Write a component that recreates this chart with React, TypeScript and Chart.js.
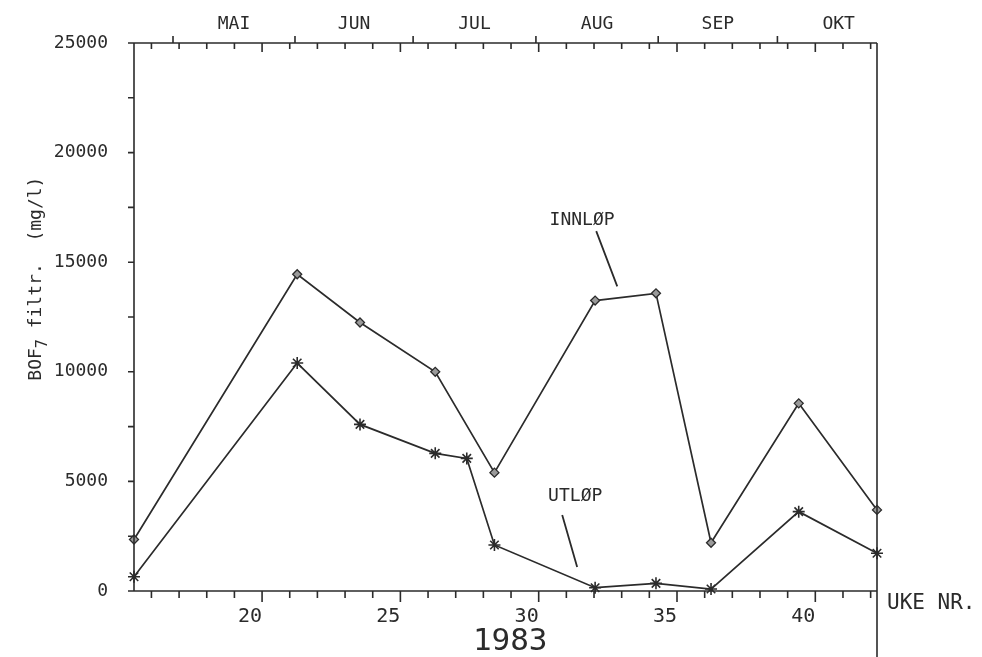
import React, { useEffect, useRef } from "react";
import { Chart, registerables } from "chart.js";

Chart.register(...registerables);

// ---- data ----
const INN_WEEKS = [15.37, 21.27, 23.54, 26.26, 28.4, 32.04, 34.24, 36.23, 39.4, 42.23];
const INN_VALUES = [2350, 14450, 12250, 10000, 5400, 13250, 13580, 2200, 8560, 3700];
const UTL_WEEKS = [15.37, 21.27, 23.54, 26.26, 27.4, 28.4, 32.04, 34.24, 36.23, 39.4, 42.23];
const UTL_VALUES = [650, 10400, 7600, 6280, 6050, 2100, 150, 350, 90, 3620, 1720];
const X_TICKS = [20, 25, 30, 35, 40];
const Y_TICKS = [0, 5000, 10000, 15000, 20000, 25000];
const MONTHS = ["MAI", "JUN", "JUL", "AUG", "SEP", "OKT"];
const MONTH_STARTS = [16.78, 21.19, 25.46, 29.9, 34.32, 38.63, 43.06];
const X_MIN = 15.37;
const X_MAX = 42.23;
const Y_MAX = 25000;
const YEAR = "1983";
const X_UNIT = "UKE NR.";
const Y_TITLE_MAIN = "BOF";
const Y_TITLE_SUB = "7";
const Y_TITLE_REST = " filtr.  (mg/l)";
const LABEL_INN = "INNLØP";
const LABEL_UTL = "UTLØP";

// annotation anchors in data coordinates (week, value)
const INN_TEXT_AT = [31.57, 16900];
const INN_LEADER = [[32.08, 16420], [32.84, 13900]];
const UTL_TEXT_AT = [31.32, 4330];
const UTL_LEADER = [[30.85, 3470], [31.39, 1100]];
const YEAR_AT = [28.97, -2330];
const Y_TITLE_CENTER = 14250;

const INK = "#2b2b2b";
const FONT = "'DejaVu Sans Mono', monospace";

const decorPlugin = {
  id: "decor",
  afterDraw(chart: any) {
    const ctx = chart.ctx as CanvasRenderingContext2D;
    const { left, right, top, bottom } = chart.chartArea;
    const xs = chart.scales.x;
    const ys = chart.scales.y;
    ctx.save();
    ctx.strokeStyle = INK;
    ctx.fillStyle = INK;
    ctx.lineWidth = 1.6;
    ctx.beginPath();
    // frame
    ctx.moveTo(left, top);
    ctx.lineTo(left, bottom);
    ctx.lineTo(right, bottom);
    ctx.moveTo(left, top);
    ctx.lineTo(right, top);
    ctx.moveTo(right, top);
    ctx.lineTo(right, chart.height);
    // weekly ticks
    for (let w = Math.ceil(X_MIN); w <= X_MAX; w++) {
      const px = xs.getPixelForValue(w);
      const major = w % 5 === 0;
      ctx.moveTo(px, bottom);
      ctx.lineTo(px, bottom + (major ? 11 : 7));
      ctx.moveTo(px, top);
      ctx.lineTo(px, top + (major ? 9 : 6));
    }
    // month boundary ticks (upward)
    MONTH_STARTS.forEach((m) => {
      if (m < X_MIN || m > X_MAX) return;
      const px = xs.getPixelForValue(m);
      ctx.moveTo(px, top);
      ctx.lineTo(px, top - 7);
    });
    // y ticks every 2500
    for (let v = 0; v <= Y_MAX; v += 2500) {
      const py = ys.getPixelForValue(v);
      ctx.moveTo(left, py);
      ctx.lineTo(left - 6, py);
    }
    ctx.stroke();

    // month labels
    ctx.font = `18px ${FONT}`;
    ctx.textAlign = "center";
    ctx.textBaseline = "middle";
    MONTHS.forEach((m, i) => {
      const mid = (MONTH_STARTS[i] + MONTH_STARTS[i + 1]) / 2;
      ctx.fillText(m, xs.getPixelForValue(mid), 24);
    });

    // year
    ctx.font = `31px ${FONT}`;
    ctx.fillText(YEAR, xs.getPixelForValue(YEAR_AT[0]), ys.getPixelForValue(YEAR_AT[1]));

    // unit
    ctx.font = `21px ${FONT}`;
    ctx.textAlign = "left";
    ctx.fillText(X_UNIT, right + 10, 604);

    // y title (rotated, with subscript)
    ctx.save();
    ctx.translate(36, ys.getPixelForValue(Y_TITLE_CENTER));
    ctx.rotate(-Math.PI / 2);
    ctx.textBaseline = "middle";
    ctx.font = `18px ${FONT}`;
    const wMain = ctx.measureText(Y_TITLE_MAIN).width;
    const wRest = ctx.measureText(Y_TITLE_REST).width;
    ctx.font = `15px ${FONT}`;
    const wSub = ctx.measureText(Y_TITLE_SUB).width;
    const total = wMain + wSub + wRest;
    let cx = -total / 2;
    ctx.font = `18px ${FONT}`;
    ctx.textAlign = "left";
    ctx.fillText(Y_TITLE_MAIN, cx, 0);
    cx += wMain;
    ctx.font = `15px ${FONT}`;
    ctx.fillText(Y_TITLE_SUB, cx, 7);
    cx += wSub;
    ctx.font = `18px ${FONT}`;
    ctx.fillText(Y_TITLE_REST, cx, 0);
    ctx.restore();

    // annotations
    ctx.font = `18px ${FONT}`;
    ctx.textAlign = "center";
    ctx.textBaseline = "middle";
    ctx.fillText(LABEL_INN, xs.getPixelForValue(INN_TEXT_AT[0]), ys.getPixelForValue(INN_TEXT_AT[1]));
    ctx.fillText(LABEL_UTL, xs.getPixelForValue(UTL_TEXT_AT[0]), ys.getPixelForValue(UTL_TEXT_AT[1]));
    ctx.lineWidth = 1.8;
    ctx.beginPath();
    [INN_LEADER, UTL_LEADER].forEach((seg) => {
      ctx.moveTo(xs.getPixelForValue(seg[0][0]), ys.getPixelForValue(seg[0][1]));
      ctx.lineTo(xs.getPixelForValue(seg[1][0]), ys.getPixelForValue(seg[1][1]));
    });
    ctx.stroke();
    ctx.restore();
  },
};

export default function App() {
  const ref = useRef<HTMLCanvasElement | null>(null);
  useEffect(() => {
    document.body.style.margin = "0";
    const canvas = ref.current!;
    const chart = new Chart(canvas, {
      type: "line",
      data: {
        datasets: [
          {
            label: LABEL_INN,
            data: INN_WEEKS.map((w, i) => ({ x: w, y: INN_VALUES[i] })),
            borderColor: INK,
            borderWidth: 1.7,
            pointStyle: "rectRot",
            pointRadius: 4.5,
            pointBackgroundColor: "#9a9a9a",
            pointBorderColor: INK,
            pointBorderWidth: 1.3,
            tension: 0,
            clip: false as any,
          },
          {
            label: LABEL_UTL,
            data: UTL_WEEKS.map((w, i) => ({ x: w, y: UTL_VALUES[i] })),
            borderColor: INK,
            borderWidth: 1.7,
            pointStyle: "star",
            pointRadius: 6,
            pointBorderColor: INK,
            pointBorderWidth: 1.6,
            tension: 0,
            clip: false as any,
          },
        ],
      },
      options: {
        animation: false,
        responsive: false,
        maintainAspectRatio: false,
        layout: { padding: { left: 0, top: 43, right: 105, bottom: 0 } },
        plugins: { legend: { display: false }, tooltip: { enabled: false } },
        scales: {
          x: {
            type: "linear",
            min: X_MIN,
            max: X_MAX,
            grid: { display: false },
            border: { display: false },
            afterBuildTicks: (s: any) => {
              s.ticks = X_TICKS.map((v) => ({ value: v }));
            },
            afterFit: (s: any) => {
              s.height = 66;
            },
            ticks: {
              align: "end",
              padding: 6,
              color: INK,
              font: { family: FONT, size: 20 },
              maxRotation: 0,
              autoSkip: false,
              callback: (v: any) => String(v),
            },
          },
          y: {
            type: "linear",
            min: 0,
            max: Y_MAX,
            grid: { display: false },
            border: { display: false },
            afterBuildTicks: (s: any) => {
              s.ticks = Y_TICKS.map((v) => ({ value: v }));
            },
            afterFit: (s: any) => {
              s.width = 134;
            },
            ticks: {
              padding: 18,
              color: INK,
              font: { family: FONT, size: 18 },
              callback: (v: any) => String(v),
            },
          },
        },
      },
      plugins: [decorPlugin],
    });
    return () => chart.destroy();
  }, []);
  return (
    <div style={{ position: "absolute", left: 0, top: 0, width: 982, height: 657, background: "#fff" }}>
      <canvas ref={ref} width={982} height={657} style={{ width: 982, height: 657 }} />
    </div>
  );
}
